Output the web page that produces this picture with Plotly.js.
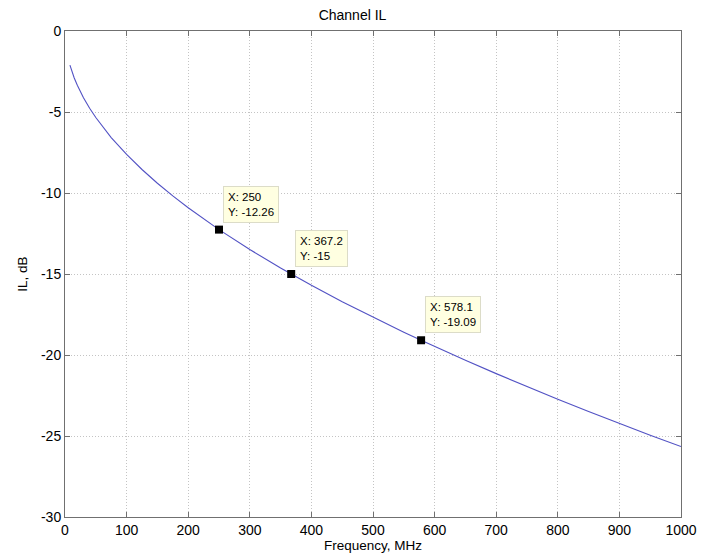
<!DOCTYPE html>
<html>
<head>
<meta charset="utf-8">
<script src="https://cdn.plot.ly/plotly-3.0.1.min.js"></script>
<style>html,body{margin:0;padding:0;background:#fff;}#chart{width:705px;height:554px;}</style>
</head>
<body>
<div id="chart"></div>
<script>
var freqMHz = [8, 10, 15, 20, 30, 40, 50, 75, 100, 125, 150, 175, 200, 250, 300, 350, 367.2, 400, 450, 500, 550, 578.1, 600, 650, 700, 750, 800, 850, 900, 950, 1000];
var ilDb = [-2.11, -2.36, -2.90, -3.35, -4.12, -4.77, -5.34, -6.58, -7.62, -8.55, -9.40, -10.18, -10.91, -12.26, -13.49, -14.63, -15.00, -15.70, -16.71, -17.67, -18.59, -19.09, -19.47, -20.33, -21.15, -21.95, -22.73, -23.49, -24.23, -24.95, -25.65];
var tipX = [250, 367.2, 578.1];
var tipY = [-12.26, -15, -19.09];
var tipXLabels = ["250", "367.2", "578.1"];
var tipYLabels = ["-12.26", "-15", "-19.09"];
var xTicks = [0, 100, 200, 300, 400, 500, 600, 700, 800, 900, 1000];
var xTickText = ["0", "100", "200", "300", "400", "500", "600", "700", "800", "900", "1000"];
var yTicks = [-30, -25, -20, -15, -10, -5, 0];
var yTickText = ["-30", "-25", "-20", "-15", "-10", "-5", "0"];

var font = "Liberation Sans, Arial, sans-serif";
var annotations = tipX.map(function (x, i) {
  return {
    x: x, y: tipY[i], xref: 'x', yref: 'y',
    text: 'X: ' + tipXLabels[i] + '<br>Y: ' + tipYLabels[i],
    showarrow: false, xanchor: 'left', yanchor: 'bottom',
    xshift: 4, yshift: 7, align: 'left',
    bgcolor: '#ffffe1', bordercolor: '#dcdcc8', borderwidth: 1, borderpad: 4,
    font: {family: font, size: 11.5, color: '#000'}
  };
});

var traces = [
  {x: freqMHz, y: ilDb, type: 'scatter', mode: 'lines', line: {color: '#5252c4', width: 1.1}, hoverinfo: 'skip'},
  {x: tipX, y: tipY, type: 'scatter', mode: 'markers', marker: {symbol: 'square', size: 8, color: '#000'}, hoverinfo: 'skip'}
];

var axisCommon = {
  showline: true, linecolor: '#707070', linewidth: 1, mirror: 'ticks',
  ticks: 'inside', ticklen: 5, tickcolor: '#707070',
  showgrid: true, gridcolor: '#c4c4c4', griddash: '1px,2px', gridwidth: 1,
  zeroline: false, tickfont: {family: font, size: 14, color: '#000'}
};

var layout = {
  width: 705, height: 554,
  margin: {l: 65, r: 24, t: 31, b: 37},
  paper_bgcolor: '#fff', plot_bgcolor: '#fff',
  showlegend: false,
  title: {text: 'Channel IL', font: {family: font, size: 14, color: '#000'}, x: 0.5, xanchor: 'center', y: 0.972, yanchor: 'middle'},
  xaxis: Object.assign({}, axisCommon, {
    range: [0, 1000], tickmode: 'array', tickvals: xTicks, ticktext: xTickText,
    title: {text: 'Frequency, MHz', font: {family: font, size: 13.5, color: '#000'}, standoff: 1}
  }),
  yaxis: Object.assign({}, axisCommon, {
    range: [-30, 0], tickmode: 'array', tickvals: yTicks, ticktext: yTickText,
    title: {text: 'IL, dB', font: {family: font, size: 13.5, color: '#000'}, standoff: 10}
  }),
  annotations: annotations
};

Plotly.newPlot('chart', traces, layout, {staticPlot: true, displayModeBar: false});
</script>
</body>
</html>
